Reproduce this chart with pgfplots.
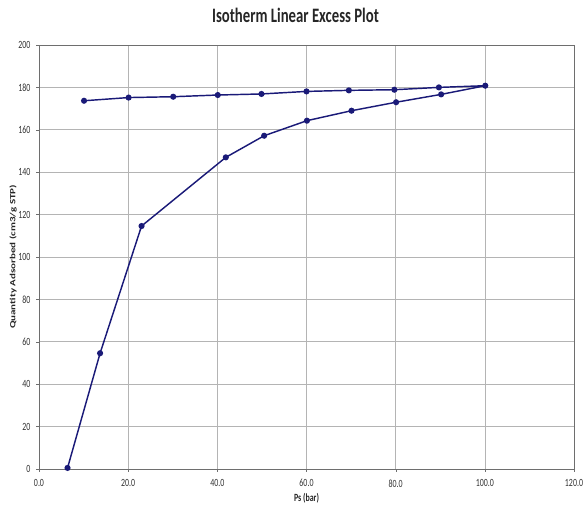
\documentclass[border=0pt]{standalone}
\usepackage{fontspec}
\setmainfont{Carlito}
\usepackage{graphicx}
\usepackage{pgfplots}
\pgfplotsset{compat=1.18}
\definecolor{navy}{RGB}{26,26,120}
\definecolor{gridgray}{RGB}{180,180,180}
\definecolor{axgray}{RGB}{110,110,110}
\newcommand{\sq}[1]{\scalebox{0.72}[1]{#1}}
\begin{document}
\begin{tikzpicture}
\begin{axis}[
  scale only axis,
  width=535pt, height=424pt,
  xmin=0, xmax=120, ymin=0, ymax=200,
  xtick={0,20,...,120}, ytick={0,20,...,200},
  xticklabels={\sq{0.0},\sq{20.0},\sq{40.0},\sq{60.0},\sq{80.0},\sq{100.0},\sq{120.0}},
  yticklabels={\sq{0},\sq{20},\sq{40},\sq{60},\sq{80},\sq{100},\sq{120},\sq{140},\sq{160},\sq{180},\sq{200}},
  grid=major,
  major grid style={gridgray, line width=0.6pt},
  axis line style={axgray, line width=0.8pt},
  tick style={axgray},
  tick align=outside,
  major tick length=3pt,
  xtick pos=bottom, ytick pos=left,
  tick label style={font=\fontsize{11}{13}\selectfont, text=black!80},
  xticklabel style={yshift=-4pt},
  yticklabel style={xshift=-2pt},
  xlabel={\sq{\textbf{Ps (bar)}}},
  ylabel={\scalebox{1}[0.72]{\textbf{Quantity Adsorbed (cm3/g STP)}}},
  label style={font=\fontsize{11}{13}\selectfont, text=black!85},
  xlabel style={at={([yshift=-29pt]axis description cs:0.5,0)}, anchor=center},
  ylabel style={at={([xshift=-26pt]axis description cs:0,0.5)}, anchor=center},
  title={\sq{\textbf{Isotherm Linear Excess Plot}}},
  title style={font=\fontsize{20.5}{24}\selectfont, text=black!85, at={([xshift=-11pt,yshift=24pt]axis description cs:0.5,1)}, anchor=center},
]
\addplot[navy, line width=1.45pt, mark=*, mark size=2.3pt, mark options={fill=navy}] coordinates {
(6.4,0.5) (13.7,54.6) (23.0,114.6) (41.9,147.0) (50.5,157.2) (60.1,164.3)
(70.1,169.0) (80.1,173.0) (90.2,176.7) (100.1,180.8)
(89.7,180.0) (79.7,178.9) (69.5,178.6) (60.0,178.1) (49.9,176.9)
(40.1,176.4) (30.1,175.6) (20.1,175.2) (10.1,173.7)
};
\end{axis}
\pgfresetboundingbox
\useasboundingbox ([xshift=-39pt,yshift=-38pt]current axis.south west) rectangle ([xshift=10pt,yshift=45pt]current axis.north east);
\end{tikzpicture}
\end{document}
